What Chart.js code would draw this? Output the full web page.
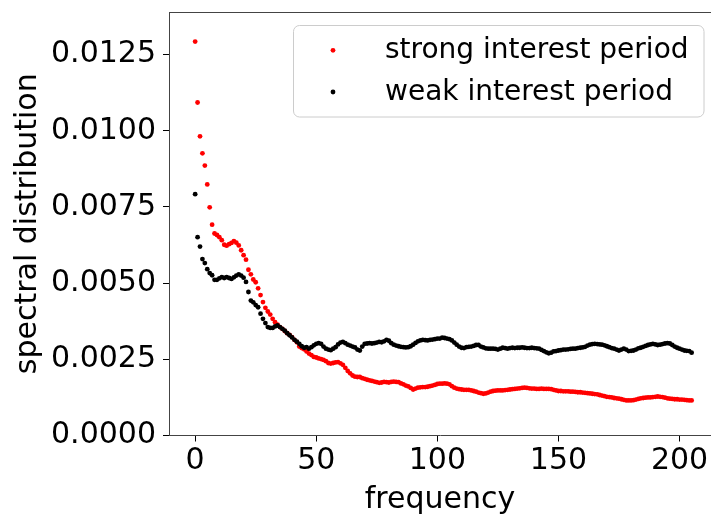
<!DOCTYPE html>
<html>
<head>
<meta charset="utf-8">
<script src="https://cdn.jsdelivr.net/npm/chart.js@4.4.1/dist/chart.umd.min.js"></script>
<style>
  html, body { margin: 0; padding: 0; background: #fff; }
  #wrap { width: 711px; height: 514px; }
</style>
</head>
<body>
<div id="wrap"><canvas id="chartSpectrum" width="711" height="514"></canvas></div>
<script>
/* spectral distribution per frequency, index = frequency */
const strongPeriod = [
  0.01293, 0.01093, 0.00982, 0.00926, 0.00886, 0.00824, 0.00749, 0.00692, 0.00663, 0.00658,
  0.00651, 0.00641, 0.00626, 0.00623, 0.00628, 0.00632, 0.00638, 0.00633, 0.00624, 0.00608,
  0.00592, 0.00577, 0.00544, 0.00529, 0.00512, 0.00503, 0.00483, 0.00461, 0.00438, 0.00419,
  0.00407, 0.00397, 0.00383, 0.00372, 0.00364, 0.00356, 0.00350, 0.00343, 0.00336, 0.00330,
  0.00323, 0.00314, 0.00306, 0.00292, 0.00287, 0.00283, 0.00276, 0.00269, 0.00264, 0.00258,
  0.00256, 0.00253, 0.00251, 0.00248, 0.00244, 0.00238, 0.00236, 0.00238, 0.00240, 0.00241,
  0.00237, 0.00232, 0.00222, 0.00212, 0.00204, 0.00197, 0.00193, 0.00192, 0.00192, 0.00188,
  0.00186, 0.00183, 0.00181, 0.00179, 0.00177, 0.00175, 0.00173, 0.00174, 0.00176, 0.00175,
  0.00174, 0.00176, 0.00177, 0.00176, 0.00175, 0.00171, 0.00168, 0.00164, 0.00161, 0.00156,
  0.00151, 0.00154, 0.00157, 0.00158, 0.00159, 0.00159, 0.00160, 0.00162, 0.00164, 0.00166,
  0.00169, 0.00170, 0.00170, 0.00171, 0.00170, 0.00168, 0.00162, 0.00157, 0.00154, 0.00152,
  0.00151, 0.00150, 0.00150, 0.00150, 0.00148, 0.00146, 0.00144, 0.00141, 0.00139, 0.00137,
  0.00138, 0.00141, 0.00144, 0.00146, 0.00147, 0.00148, 0.00148, 0.00148, 0.00149, 0.00150,
  0.00151, 0.00152, 0.00153, 0.00154, 0.00155, 0.00156, 0.00157, 0.00156, 0.00155, 0.00154,
  0.00154, 0.00153, 0.00153, 0.00154, 0.00153, 0.00153, 0.00153, 0.00152, 0.00150, 0.00148,
  0.00146, 0.00146, 0.00145, 0.00145, 0.00145, 0.00144, 0.00144, 0.00143, 0.00142, 0.00142,
  0.00141, 0.00140, 0.00139, 0.00138, 0.00137, 0.00136, 0.00135, 0.00133, 0.00131, 0.00129,
  0.00127, 0.00126, 0.00125, 0.00123, 0.00122, 0.00121, 0.00119, 0.00117, 0.00115, 0.00115,
  0.00115, 0.00116, 0.00118, 0.00120, 0.00122, 0.00123, 0.00124, 0.00125, 0.00125, 0.00126,
  0.00127, 0.00128, 0.00127, 0.00126, 0.00124, 0.00122, 0.00121, 0.00120, 0.00119, 0.00119,
  0.00118, 0.00118, 0.00117, 0.00116, 0.00115, 0.00115
];

const weakPeriod = [
  0.00792, 0.00651, 0.00620, 0.00579, 0.00566, 0.00546, 0.00533, 0.00526, 0.00511, 0.00511,
  0.00516, 0.00520, 0.00517, 0.00520, 0.00517, 0.00514, 0.00519, 0.00525, 0.00529, 0.00525,
  0.00518, 0.00504, 0.00471, 0.00443, 0.00437, 0.00428, 0.00421, 0.00400, 0.00383, 0.00369,
  0.00356, 0.00353, 0.00353, 0.00358, 0.00361, 0.00356, 0.00350, 0.00344, 0.00336, 0.00329,
  0.00322, 0.00314, 0.00308, 0.00301, 0.00293, 0.00288, 0.00290, 0.00285, 0.00290, 0.00296,
  0.00301, 0.00303, 0.00301, 0.00292, 0.00285, 0.00282, 0.00280, 0.00285, 0.00290, 0.00299,
  0.00305, 0.00307, 0.00303, 0.00298, 0.00295, 0.00292, 0.00289, 0.00282, 0.00279, 0.00292,
  0.00301, 0.00302, 0.00303, 0.00302, 0.00303, 0.00305, 0.00307, 0.00306, 0.00309, 0.00314,
  0.00311, 0.00303, 0.00298, 0.00295, 0.00293, 0.00291, 0.00290, 0.00289, 0.00290, 0.00293,
  0.00298, 0.00304, 0.00309, 0.00312, 0.00314, 0.00313, 0.00312, 0.00314, 0.00315, 0.00316,
  0.00318, 0.00318, 0.00321, 0.00320, 0.00318, 0.00316, 0.00312, 0.00305, 0.00298, 0.00292,
  0.00288, 0.00287, 0.00290, 0.00291, 0.00292, 0.00294, 0.00297, 0.00297, 0.00292, 0.00289,
  0.00286, 0.00285, 0.00285, 0.00285, 0.00284, 0.00282, 0.00285, 0.00288, 0.00287, 0.00285,
  0.00287, 0.00288, 0.00287, 0.00288, 0.00288, 0.00289, 0.00288, 0.00287, 0.00287, 0.00288,
  0.00287, 0.00286, 0.00285, 0.00281, 0.00277, 0.00273, 0.00270, 0.00272, 0.00276, 0.00277,
  0.00279, 0.00280, 0.00282, 0.00282, 0.00283, 0.00284, 0.00285, 0.00285, 0.00287, 0.00288,
  0.00289, 0.00291, 0.00295, 0.00298, 0.00300, 0.00301, 0.00300, 0.00299, 0.00298, 0.00296,
  0.00293, 0.00290, 0.00287, 0.00285, 0.00282, 0.00279, 0.00282, 0.00285, 0.00282, 0.00277,
  0.00278, 0.00279, 0.00282, 0.00286, 0.00288, 0.00291, 0.00294, 0.00297, 0.00299, 0.00301,
  0.00299, 0.00297, 0.00298, 0.00300, 0.00302, 0.00303, 0.00302, 0.00297, 0.00292, 0.00288,
  0.00285, 0.00282, 0.00279, 0.00278, 0.00277, 0.00272
];

const seriesLabels = ['strong interest period', 'weak interest period'];
const seriesColors = ['#ff0000', '#000000'];
const xTicks = [0, 50, 100, 150, 200];
const yTicks = [0, 0.0025, 0.005, 0.0075, 0.01, 0.0125];

const FONT = 'DejaVu Sans';

function toPoints(values) {
  return values.map((v, i) => ({x: i, y: v}));
}

function fixedTicks(values) {
  return function (scale) {
    scale.ticks = values.map(v => ({value: v}));
  };
}

// keep the axis box at a fixed size, without label overhang padding
function fixedSize(width, height) {
  return function (scale) {
    if (width) scale.width = width;
    if (height) scale.height = height;
    scale.paddingTop = 0;
    scale.paddingBottom = 0;
    scale.paddingLeft = 0;
    scale.paddingRight = 0;
  };
}

/* legend box and top spine, drawn like a pyplot frame */
const framePlugin = {
  id: 'frame',
  afterDraw(chart) {
    const ctx = chart.ctx;
    const area = chart.chartArea;
    ctx.save();
    ctx.strokeStyle = '#444';
    ctx.lineWidth = 1;
    ctx.beginPath();
    ctx.moveTo(area.left, area.top + 0.5);
    ctx.lineTo(area.right, area.top + 0.5);
    ctx.stroke();

    // legend
    const bx = 293.5, by = 25.5, bw = 410.5, bh = 91.5, r = 6;
    ctx.beginPath();
    ctx.roundRect(bx, by, bw, bh, r);
    ctx.fillStyle = 'rgba(255,255,255,0.8)';
    ctx.fill();
    ctx.strokeStyle = '#cccccc';
    ctx.stroke();

    ctx.font = '28px "' + FONT + '"';
    ctx.textBaseline = 'alphabetic';
    ctx.textAlign = 'left';
    const rows = [50.3, 92];
    for (let i = 0; i < seriesLabels.length; i++) {
      ctx.beginPath();
      ctx.arc(333, rows[i], 2.4, 0, Math.PI * 2);
      ctx.fillStyle = seriesColors[i];
      ctx.fill();
      ctx.fillStyle = '#000';
      ctx.fillText(seriesLabels[i], 385, rows[i] + 8);
    }
    ctx.restore();
  }
};

Chart.defaults.color = '#000';
Chart.defaults.font.family = FONT;

const dataSpectrum = {
  datasets: [
    {
      label: seriesLabels[0],
      data: toPoints(strongPeriod),
      backgroundColor: seriesColors[0],
      borderWidth: 0,
      pointRadius: 2.4,
      order: 2,
    },
    {
      label: seriesLabels[1],
      data: toPoints(weakPeriod),
      backgroundColor: seriesColors[1],
      borderWidth: 0,
      pointRadius: 2.4,
      order: 1,
    },
  ]
};

const configSpectrum = {
  type: 'scatter',
  data: dataSpectrum,
  options: {
    responsive: false,
    animation: false,
    devicePixelRatio: 1,
    layout: { autoPadding: false, padding: { top: 12, right: 0, left: 0, bottom: 0 } },
    plugins: {
      legend: { display: false },
      tooltip: { enabled: false },
    },
    scales: {
      x: {
        type: 'linear',
        min: -10.8,
        max: 213,
        afterBuildTicks: fixedTicks(xTicks),
        afterFit: fixedSize(0, 78.5),
        grid: { drawOnChartArea: false, color: '#000', tickLength: 6, tickWidth: 1 },
        border: { display: true, color: '#444', width: 1 },
        ticks: { font: { size: 30 }, padding: 2, maxRotation: 0 },
        title: {
          display: true,
          text: 'frequency',
          font: { size: 30 },
          padding: { top: 0, bottom: -4 },
        },
      },
      y: {
        type: 'linear',
        min: 0,
        max: 0.0139,
        afterBuildTicks: fixedTicks(yTicks),
        afterFit: fixedSize(169, 0),
        grid: { drawOnChartArea: false, color: '#000', tickLength: 6, tickWidth: 1 },
        border: { display: true, color: '#444', width: 1 },
        ticks: {
          font: { size: 30 },
          padding: 7,
          callback: v => v.toFixed(4),
        },
        title: {
          display: true,
          text: 'spectral distribution',
          font: { size: 30 },
          padding: { top: 10, bottom: 0 },
        },
      },
    },
  },
  plugins: [framePlugin],
};

const ctx = document.getElementById('chartSpectrum').getContext('2d');
const chartSpectrum = new Chart(ctx, configSpectrum);
</script>
</body>
</html>
